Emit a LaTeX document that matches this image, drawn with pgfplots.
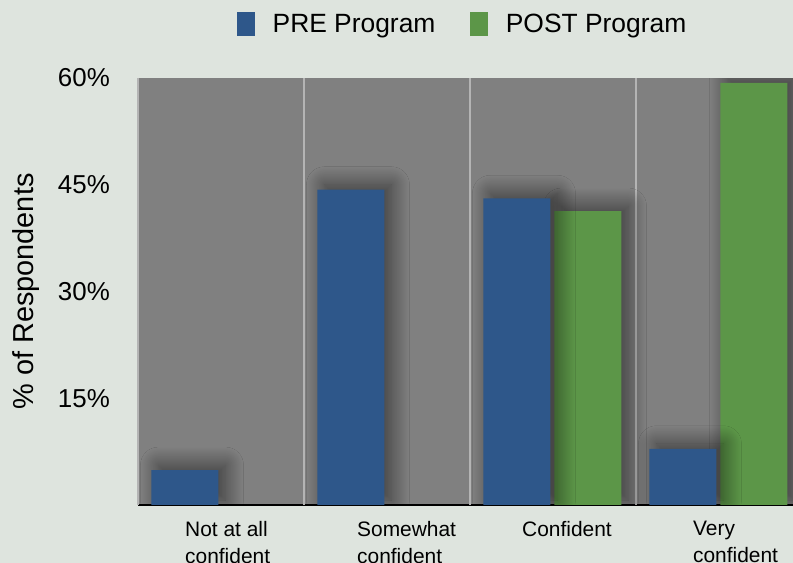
\documentclass[border=0pt]{standalone}
\usepackage{fontspec}
\setmainfont{Liberation Sans}
\usepackage{pgfplots}
\pgfplotsset{compat=1.18}
\usetikzlibrary{shadows.blur}
\definecolor{bgc}{RGB}{222,228,222}
\definecolor{plotgray}{RGB}{128,128,128}
\definecolor{sepgray}{RGB}{180,180,180}
\definecolor{pre}{RGB}{46,87,138}
\definecolor{post}{RGB}{92,150,72}
\tikzset{barshadow/.style={blur shadow={shadow xshift=7bp, shadow yshift=5bp, shadow blur radius=18bp, shadow opacity=55, shadow blur steps=40}}}
\begin{document}
\begin{tikzpicture}
\useasboundingbox (0,0) rectangle (793bp,563bp);
\fill[bgc] (0,0) rectangle (793bp,563bp);
\clip (0,0) rectangle (793bp,563bp);
\begin{axis}[
  at={(138bp,58bp)}, anchor=south west,
  width=656bp, height=427bp, scale only axis,
  xmin=-0.5, xmax=3.452, ymin=0, ymax=60,
  axis background/.style={fill=plotgray},
  axis x line*=bottom, axis y line*=left,
  x axis line style={draw=black, line width=2.5bp, -},
  y axis line style={draw=sepgray, line width=2bp, -},
  xtick={-0.2169,0.8193,1.8133,2.843},
  xticklabels={{Not at all\\confident},{Somewhat\\confident},{Confident},{Very\\confident}},
  xticklabel style={font=\fontsize{21}{27}\selectfont, align=left, anchor=north west, inner sep=0pt, yshift=-16bp},
  ytick={15,30,45,60}, yticklabels={15\%,30\%,45\%,60\%},
  major tick length=0pt,
  yticklabel style={font=\fontsize{26}{30}\selectfont, anchor=east, inner sep=0pt, xshift=-28bp},
  ylabel={\% of Respondents},
  ylabel style={font=\fontsize{29}{33}\selectfont, at={(axis description cs:0,0.5)}, anchor=center, yshift=112bp},
  ybar, bar width=67bp,
  clip=true,
  legend columns=2,
  legend style={draw=none, fill=none, at={(axis description cs:0.151,1)}, anchor=west, yshift=54bp,
    font=\fontsize{26.5}{31}\selectfont, inner sep=0pt,
    /tikz/every even column/.append style={column sep=33bp},
    /tikz/every odd column/.append style={column sep=16bp}},
]
\draw[sepgray, line width=2bp] (axis cs:0.5,0) -- (axis cs:0.5,60);
\draw[sepgray, line width=2bp] (axis cs:1.5,0) -- (axis cs:1.5,60);
\draw[sepgray, line width=2bp] (axis cs:2.5,0) -- (axis cs:2.5,60);
\addlegendimage{legend image code/.code={\fill[pre] (0bp,-11.5bp) rectangle (17bp,11.5bp);}}
\addlegendentry{PRE Program}
\addlegendimage{legend image code/.code={\fill[post] (0bp,-11.5bp) rectangle (17bp,11.5bp);}}
\addlegendentry{POST Program}
\addplot[fill=post, draw=none, bar shift=35bp, barshadow, forget plot] coordinates {(2,41.3) (3,59.3)};
\addplot[fill=pre, draw=none, bar shift=-36bp, barshadow, forget plot] coordinates {(0,4.9) (1,44.3) (2,43.1) (3,7.9)};
\end{axis}
\end{tikzpicture}
\end{document}
